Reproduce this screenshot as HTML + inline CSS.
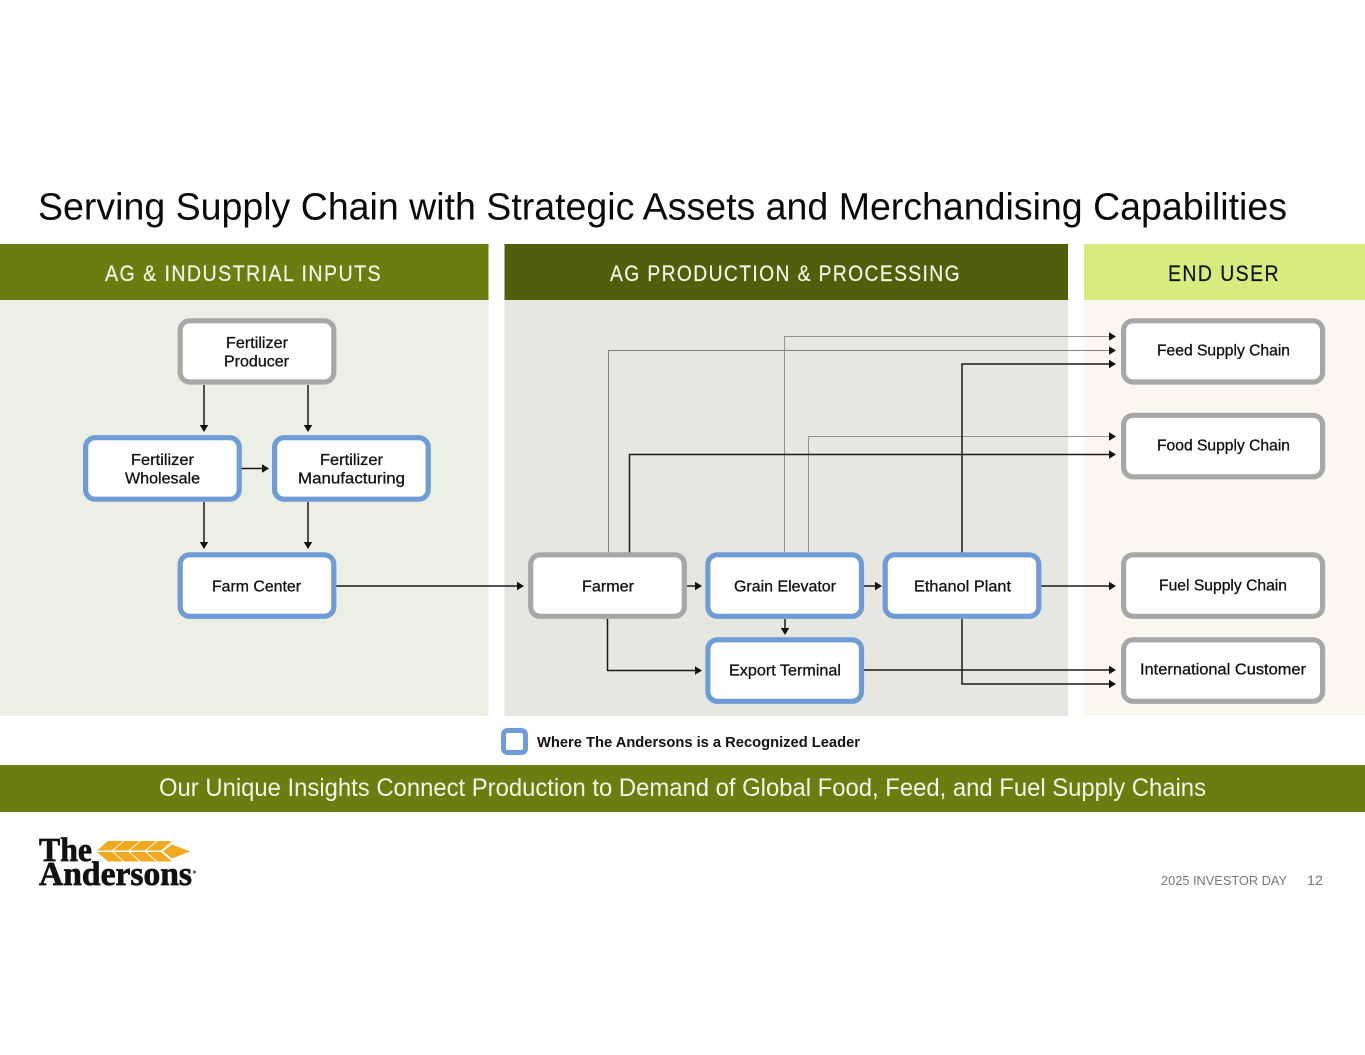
<!DOCTYPE html>
<html lang="en"><head><meta charset="utf-8"><title>Serving Supply Chain</title>
<style>
html,body{margin:0;padding:0;background:#fff;width:1365px;height:1055px;overflow:hidden}
svg{display:block}
text{font-family:"Liberation Sans",sans-serif}
.l{font-size:16px;fill:#111;stroke:#111;stroke-width:.3}
.h{font-size:22px;letter-spacing:1.6px;stroke-width:.2}
.b{fill:#fff;stroke-width:5.2}
.bl{stroke:#6f9bd6}
.gr{stroke:#a6a8a8}
.k{fill:none;stroke:#1a1a1a;stroke-width:1.5}
.t{fill:none;stroke:#7f817c;stroke-width:1}
.t2{fill:none;stroke:#92948e;stroke-width:1}
.lg{font-family:"Liberation Serif",serif;font-size:33.5px;font-weight:700;fill:#111;stroke:#111;stroke-width:.7}
</style></head><body>
<svg width="1365" height="1055" viewBox="0 0 1365 1055" xmlns="http://www.w3.org/2000/svg">
<defs><polygon id="r" points="-7,-4.200 0,0 -7,4.200" fill="#111"/><polygon id="d" points="-4.200,-7 0,0 4.200,-7" fill="#111"/></defs>
<rect width="1365" height="1055" fill="#fff"/>
<text x="38" y="219.500" font-size="38" fill="#0a0a0a" textLength="1249" lengthAdjust="spacingAndGlyphs">Serving Supply Chain with Strategic Assets and Merchandising Capabilities</text>

<rect x="0" y="300" width="488.500" height="416" fill="#ecefe3"/>
<rect x="504.500" y="300" width="563.500" height="416" fill="#e6e7e1"/>
<rect x="1084" y="300" width="281" height="416" fill="#faf7f1"/>
<rect x="0" y="244" width="488.500" height="56" fill="#6b7d10"/>
<rect x="504.500" y="244" width="563.500" height="56" fill="#515f0d"/>
<rect x="1084" y="244" width="281" height="56" fill="#d7ec7d"/>
<text class="h" x="105" y="281" fill="#f4f6e6" stroke="#f4f6e6" textLength="277" lengthAdjust="spacingAndGlyphs">AG &amp; INDUSTRIAL INPUTS</text>
<text class="h" x="610" y="281" fill="#f4f6e6" stroke="#f4f6e6" textLength="351" lengthAdjust="spacingAndGlyphs">AG PRODUCTION &amp; PROCESSING</text>
<text class="h" x="1168" y="281" fill="#111" stroke="#111" textLength="112" lengthAdjust="spacingAndGlyphs">END USER</text>

<!-- connectors -->
<path class="t" d="M608.500 553V350.500H1110"/>
<path class="t2" d="M784.500 553V336.500H1110"/>
<path class="t2" d="M808.500 553V436.500H1110"/>
<path class="k" d="M629.500 553V454.500H1110"/>
<path class="k" d="M962 553V364H1110"/>
<path class="k" d="M204 385V426M308 385V426M241 468.500H262M204 502V543M308 502V543M336 586H518M687 586H696M864 586H875M785 619V628M607.500 617V670.500H696M864 670H1110M962 619V684H1110M1041 586H1110"/>
<use href="#d" x="204" y="432"/><use href="#d" x="308" y="432"/>
<use href="#r" x="269" y="468.500"/>
<use href="#d" x="204" y="549"/><use href="#d" x="308" y="549"/>
<use href="#r" x="524" y="586"/><use href="#r" x="702" y="586"/><use href="#r" x="882" y="586"/>
<use href="#d" x="785" y="635"/><use href="#r" x="702" y="670.500"/>
<use href="#r" x="1116" y="336.500"/><use href="#r" x="1116" y="350.500"/><use href="#r" x="1116" y="364"/>
<use href="#r" x="1116" y="436.500"/><use href="#r" x="1116" y="454.500"/>
<use href="#r" x="1116" y="586"/><use href="#r" x="1116" y="670"/><use href="#r" x="1116" y="684"/>

<!-- boxes -->
<rect class="b gr" x="180.200" y="320.800" width="153.600" height="61.200" rx="9.500"/>
<rect class="b bl" x="85.600" y="437.700" width="153.600" height="61.500" rx="9.500"/>
<rect class="b bl" x="274.600" y="437.700" width="153.600" height="61.500" rx="9.500"/>
<rect class="b bl" x="180.200" y="554.800" width="153.600" height="61.500" rx="9.500"/>
<rect class="b gr" x="530.700" y="554.800" width="153.600" height="61.500" rx="9.500"/>
<rect class="b bl" x="707.900" y="554.800" width="153.600" height="61.500" rx="9.500"/>
<rect class="b bl" x="885.200" y="554.800" width="153.600" height="61.500" rx="9.500"/>
<rect class="b bl" x="707.900" y="639.800" width="153.600" height="61.500" rx="9.500"/>
<rect class="b gr" x="1123.600" y="320.800" width="199" height="61.200" rx="9.500"/>
<rect class="b gr" x="1123.600" y="415.300" width="199" height="61.500" rx="9.500"/>
<rect class="b gr" x="1123.600" y="554.800" width="199" height="61.500" rx="9.500"/>
<rect class="b gr" x="1123.600" y="639.800" width="199" height="61.500" rx="9.500"/>

<!-- labels -->
<text class="l" x="226" y="348" textLength="62" lengthAdjust="spacingAndGlyphs">Fertilizer</text>
<text class="l" x="224" y="366.500" textLength="65" lengthAdjust="spacingAndGlyphs">Producer</text>
<text class="l" x="131" y="465" textLength="63" lengthAdjust="spacingAndGlyphs">Fertilizer</text>
<text class="l" x="125" y="483.500" textLength="75" lengthAdjust="spacingAndGlyphs">Wholesale</text>
<text class="l" x="320" y="465" textLength="63" lengthAdjust="spacingAndGlyphs">Fertilizer</text>
<text class="l" x="298" y="483.500" textLength="107" lengthAdjust="spacingAndGlyphs">Manufacturing</text>
<text class="l" x="212" y="591.500" textLength="89" lengthAdjust="spacingAndGlyphs">Farm Center</text>
<text class="l" x="582" y="591.500" textLength="52" lengthAdjust="spacingAndGlyphs">Farmer</text>
<text class="l" x="734" y="591.500" textLength="102" lengthAdjust="spacingAndGlyphs">Grain Elevator</text>
<text class="l" x="914" y="591.500" textLength="97" lengthAdjust="spacingAndGlyphs">Ethanol Plant</text>
<text class="l" x="729" y="675.500" textLength="112" lengthAdjust="spacingAndGlyphs">Export Terminal</text>
<text class="l" x="1157" y="355.500" textLength="133" lengthAdjust="spacingAndGlyphs">Feed Supply Chain</text>
<text class="l" x="1157" y="450.500" textLength="133" lengthAdjust="spacingAndGlyphs">Food Supply Chain</text>
<text class="l" x="1159" y="590.500" textLength="128" lengthAdjust="spacingAndGlyphs">Fuel Supply Chain</text>
<text class="l" x="1140" y="674.500" textLength="166" lengthAdjust="spacingAndGlyphs">International Customer</text>

<!-- legend -->
<rect x="503.500" y="730.500" width="22" height="22" rx="4" fill="#fff" stroke="#6f9bd6" stroke-width="5"/>
<text x="537" y="747" font-size="15" font-weight="700" fill="#111" textLength="323" lengthAdjust="spacingAndGlyphs">Where The Andersons is a Recognized Leader</text>

<rect x="0" y="765" width="1365" height="47" fill="#6b7d10"/>
<text x="159" y="796" font-size="25" fill="#f4f6e6" textLength="1047" lengthAdjust="spacingAndGlyphs">Our Unique Insights Connect Production to Demand of Global Food, Feed, and Fuel Supply Chains</text>

<!-- logo -->
<g fill="#f2a91f">
<polygon points="97,850.500 108,841 123,841 112,850.500"/>
<polygon points="113.500,850.500 124.500,841 139.500,841 128.500,850.500"/>
<polygon points="130,850.500 141,841 156,841 145,850.500"/>
<polygon points="146.500,850.500 157.500,841 172,841 161,850.500"/>
<polygon points="97,852 112,852 123,861.500 108,861.500"/>
<polygon points="113.500,852 128.500,852 139.500,861.500 124.500,861.500"/>
<polygon points="130,852 145,852 156,861.500 141,861.500"/>
<polygon points="146.500,852 161,852 172,861.500 157.500,861.500"/>
<path d="M163 851.300L172 844.500L190 851.500L172 858.500Z"/>
</g>
<text class="lg" x="39" y="861" textLength="53" lengthAdjust="spacingAndGlyphs">The</text>
<text class="lg" x="39" y="885" textLength="153" lengthAdjust="spacingAndGlyphs">Andersons</text>
<circle cx="194.500" cy="872" r="1.500" fill="#555"/>

<!-- footer -->
<text x="1161" y="885" font-size="13" fill="#777" textLength="126" lengthAdjust="spacingAndGlyphs">2025 INVESTOR DAY</text>
<text x="1307" y="885" font-size="13.500" fill="#777" textLength="16" lengthAdjust="spacingAndGlyphs">12</text>
</svg>
</body></html>
